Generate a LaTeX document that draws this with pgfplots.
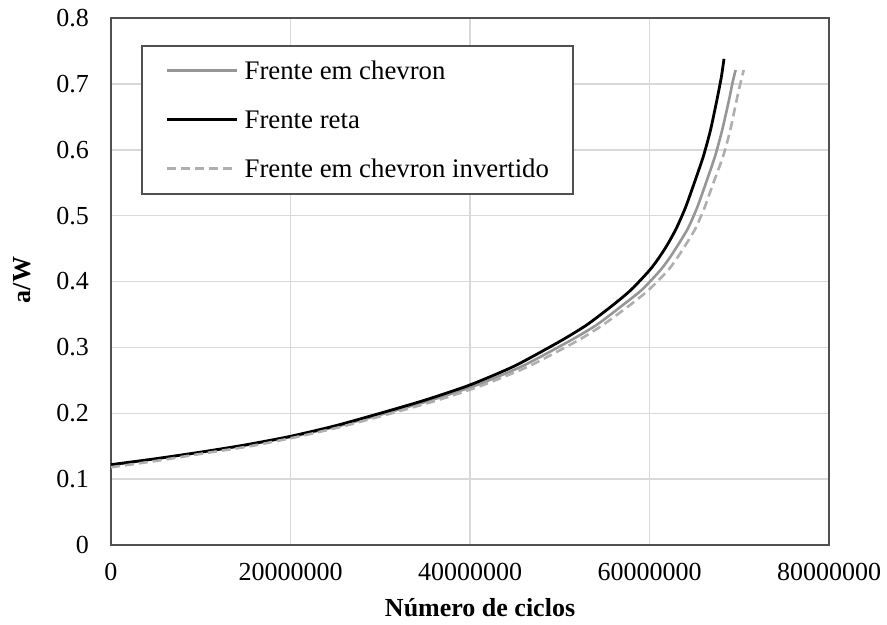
\documentclass[border=0pt]{standalone}
\usepackage{pgfplots}
\pgfplotsset{compat=1.18}
\usepackage{fontspec}
\setmainfont{Liberation Serif}
\definecolor{serA}{RGB}{150,150,150}
\definecolor{serC}{RGB}{175,175,175}
\definecolor{gridc}{RGB}{217,217,217}
\definecolor{framec}{RGB}{80,80,80}
\begin{document}
\begin{tikzpicture}
\begin{axis}[
  scale only axis,
  width=359pt, height=263.5pt,
  xmin=0, xmax=80000000, ymin=0, ymax=0.8,
  xtick={0,20000000,40000000,60000000,80000000},
  ytick={0,0.1,0.2,0.3,0.4,0.5,0.6,0.7,0.8},
  scaled x ticks=false, scaled y ticks=false,
  xticklabel style={/pgf/number format/fixed,/pgf/number format/1000 sep={},yshift=-5.5pt},
  yticklabel style={/pgf/number format/fixed,/pgf/number format/precision=1,xshift=-7.5pt},
  /pgf/number format/assume math mode=true,
  tick label style={font=\fontsize{13}{15}\selectfont, text=black},
  major tick length=0pt,
  grid=major,
  major grid style={draw=gridc, line width=0.75pt},
  axis line style={draw=framec, line width=1pt},
  xlabel={\textbf{Número de ciclos}},
  ylabel={\textbf{a/W}},
  label style={font=\fontsize{13}{15}\selectfont},
  xlabel style={at={(axis description cs:0.514,-0.118)}, anchor=center},
  ylabel style={at={(axis description cs:-0.124,0.503)}, anchor=center},
  legend cell align=left,
  legend style={at={(axis description cs:0.0418,0.9488)}, anchor=north west,
    draw=framec, line width=0.8pt, fill=white,
    font=\fontsize{13.4}{15}\selectfont,
    inner xsep=12pt, inner ysep=6.5pt, row sep=12.5pt,
    nodes={inner sep=0pt, text height=10.5pt, text depth=1.5pt}},
  legend image code/.code={\draw[#1] (0pt,0pt) -- (35pt,0pt);},
  every axis legend/.append style={/tikz/every odd column/.append style={column sep=3pt}},
]
\addplot[serA, line width=1.3pt, smooth, tension=0.4] coordinates {
(0,0.121) (5100000,0.131) (10200000,0.141) (15300000,0.152) (20400000,0.165)
(25500000,0.181) (30600000,0.200) (35700000,0.220) (40800000,0.243) (45900000,0.272)
(51000000,0.309) (54100000,0.334) (57100000,0.365) (59200000,0.388) (61200000,0.417)
(62200000,0.435) (63200000,0.456) (64300000,0.481) (65300000,0.512) (66300000,0.550)
(67300000,0.590) (68100000,0.630) (68850000,0.675) (69300000,0.705) (69600000,0.721)};
\addlegendentry{Frente em chevron}
\addplot[black, line width=1.4pt, smooth, tension=0.4] coordinates {
(0,0.122) (5000000,0.131) (10000000,0.141) (15000000,0.152) (20000000,0.165)
(25000000,0.181) (30000000,0.200) (35000000,0.220) (40000000,0.243) (45000000,0.272)
(50000000,0.309) (53000000,0.334) (56000000,0.365) (58000000,0.388) (60000000,0.417)
(61000000,0.435) (62000000,0.456) (63000000,0.481) (64000000,0.512) (65000000,0.550)
(66000000,0.590) (66800000,0.630) (67500000,0.675) (68000000,0.710) (68300000,0.738)};
\addlegendentry{Frente reta}
\addplot[serC, line width=1.3pt, dash pattern=on 4.5pt off 2.5pt, smooth, tension=0.4] coordinates {
(0,0.118) (5200000,0.128) (10300000,0.139) (15500000,0.150) (20700000,0.164)
(25800000,0.180) (31000000,0.199) (36200000,0.219) (41300000,0.242) (46500000,0.271)
(51700000,0.308) (54700000,0.333) (57800000,0.364) (59900000,0.387) (62000000,0.416)
(63000000,0.434) (64000000,0.455) (65100000,0.480) (66100000,0.511) (67100000,0.549)
(68200000,0.590) (69000000,0.630) (69700000,0.675) (70200000,0.705) (70500000,0.721)};
\addlegendentry{Frente em chevron invertido}
\end{axis}
\pgfresetboundingbox
\path (current axis.south west) ++(-55.5pt,-40pt) rectangle ++(443.5pt,312.5pt);
\end{tikzpicture}
\end{document}
